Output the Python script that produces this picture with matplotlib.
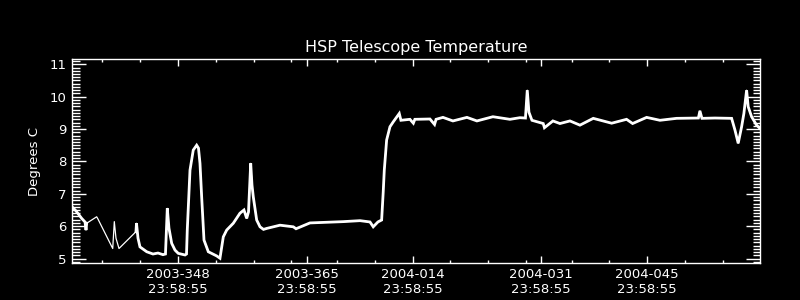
import matplotlib
matplotlib.use("Agg")
import matplotlib.pyplot as plt
from matplotlib.ticker import FixedLocator, MultipleLocator

# day number counted from 2003-001 (2004-001 = 366)
day = [334.00, 334.53, 335.28, 335.72, 335.85, 335.94,
       337.26, 337.43,
       339.38, 339.59, 339.81, 340.21,
       342.45, 342.52, 342.72, 342.98, 343.87, 344.70, 345.36, 346.02,
       346.35, 346.59, 346.81, 347.17, 347.61, 348.04, 348.93, 349.13,
       349.23, 349.59, 350.02, 350.47, 350.71, 350.91, 351.13, 351.44,
       352.01, 353.12, 353.55, 353.99, 354.44, 355.31, 356.19, 356.72,
       357.08, 357.32, 357.61, 357.78, 357.95, 358.40, 358.84, 359.30,
       359.72, 361.48, 363.24, 363.60, 365.44, 369.84, 372.05, 373.37,
       373.80, 374.42, 374.91, 375.12, 375.26, 375.57, 376.01, 376.44,
       377.24, 377.46, 378.65, 379.10, 379.30, 381.29, 381.90, 382.10,
       383.01, 384.33, 386.18, 387.50, 389.61, 391.86, 393.18, 393.91,
       394.15, 394.37, 394.77, 396.26, 396.42, 397.54, 398.47, 399.79,
       401.11, 402.87, 405.30, 407.27, 408.07, 409.92, 411.68, 413.88,
       416.76, 416.96, 417.23, 418.94, 421.15, 421.59, 422.02, 422.47,
       422.77, 423.13, 423.34, 423.79, 424.45, 424.89]
temp = [6.60, 6.47, 6.24, 6.13, 5.88, 6.09,
        6.29, 6.22,
        5.31, 6.14, 5.63, 5.31,
        5.83, 6.09, 5.63, 5.36, 5.21, 5.14, 5.17, 5.12,
        5.14, 6.55, 5.94, 5.47, 5.26, 5.16, 5.11, 5.14,
        5.88, 7.73, 8.35, 8.50, 8.41, 7.94, 6.91, 5.57,
        5.21, 5.08, 5.01, 5.67, 5.88, 6.09, 6.40, 6.50,
        6.24, 6.44, 7.94, 7.27, 6.91, 6.19, 5.98, 5.90,
        5.93, 6.03, 5.98, 5.92, 6.10, 6.14, 6.17, 6.13,
        5.98, 6.13, 6.19, 7.06, 7.73, 8.66, 9.07, 9.22,
        9.48, 9.27, 9.30, 9.18, 9.30, 9.31, 9.14, 9.30,
        9.36, 9.25, 9.36, 9.25, 9.38, 9.30, 9.35, 9.34,
        10.20, 9.52, 9.27, 9.17, 9.04, 9.25, 9.17, 9.25,
        9.12, 9.33, 9.18, 9.30, 9.17, 9.36, 9.27, 9.33,
        9.34, 9.56, 9.33, 9.34, 9.33, 8.97, 8.56, 9.07,
        9.48, 10.20, 9.69, 9.38, 9.12, 9.02]

# stretches with dense telemetry (drawn heavier), the rest are data gaps
dense = [(0, 6), (12, len(day))]

major_days = [348, 365, 379, 396, 410]
major_labels = ["2003-348\n23:58:55", "2003-365\n23:58:55", "2004-014\n23:58:55",
                "2004-031\n23:58:55", "2004-045\n23:58:55"]
minor_days = [338, 343, 353, 358, 363, 369, 374, 384, 389, 394, 400, 405, 415, 420]

plt.rcParams['font.family'] = 'DejaVu Sans'
fig = plt.figure(figsize=(8, 3), dpi=100, facecolor='black')
ax = fig.add_axes([0.09, 0.122, 0.86, 0.681], facecolor='black')

ax.plot(day, temp, color='white', lw=0.9)
for a, b in dense:
    ax.plot(day[a:b], temp[a:b], color='white', lw=2.0, solid_joinstyle='miter')

ax.set_xlim(334.0, 424.9)
ax.set_ylim(4.85, 11.16)

ax.xaxis.set_major_locator(FixedLocator(major_days))
ax.xaxis.set_minor_locator(FixedLocator(minor_days))
ax.set_xticklabels(major_labels)
ax.yaxis.set_major_locator(MultipleLocator(1))
ax.yaxis.set_minor_locator(MultipleLocator(0.1))

for s in ax.spines.values():
    s.set_color('white')
    s.set_linewidth(1)

ax.tick_params(axis='both', which='both', direction='in', colors='white',
               top=True, right=True, width=1, labelsize=9.5)
ax.tick_params(axis='x', which='major', length=5, pad=3)
ax.tick_params(axis='x', which='minor', length=2.3)
ax.tick_params(axis='y', which='major', length=10, pad=4)
ax.tick_params(axis='y', which='minor', length=5.4)

ax.set_title("HSP Telescope Temperature", color='white', fontsize=11.5, pad=5)
ax.set_ylabel("Degrees C", color='white', fontsize=9.5, labelpad=6)

fig.savefig("out.png", dpi=100, facecolor='black')
